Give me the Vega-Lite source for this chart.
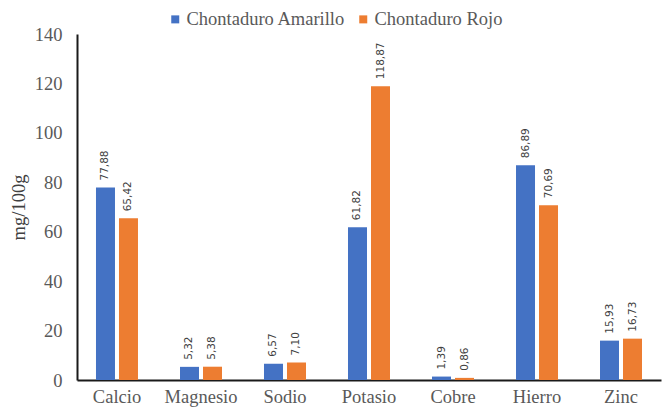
{
  "$schema": "https://vega.github.io/schema/vega-lite/v6.json",
  "width": 584,
  "height": 346,
  "autosize": {"type": "none"},
  "padding": {"left": 77, "top": 34, "right": 2, "bottom": 34},
  "background": "white",
  "config": {
    "view": {"stroke": null},
    "font": "Liberation Serif",
    "locale": {"number": {"decimal": ",", "thousands": ".", "grouping": [3], "currency": ["", ""]}}
  },
  "data": {
    "values": [
      {"mineral": "Calcio", "variedad": "Chontaduro Amarillo", "valor": 77.88},
      {"mineral": "Calcio", "variedad": "Chontaduro Rojo", "valor": 65.42},
      {"mineral": "Magnesio", "variedad": "Chontaduro Amarillo", "valor": 5.32},
      {"mineral": "Magnesio", "variedad": "Chontaduro Rojo", "valor": 5.38},
      {"mineral": "Sodio", "variedad": "Chontaduro Amarillo", "valor": 6.57},
      {"mineral": "Sodio", "variedad": "Chontaduro Rojo", "valor": 7.10},
      {"mineral": "Potasio", "variedad": "Chontaduro Amarillo", "valor": 61.82},
      {"mineral": "Potasio", "variedad": "Chontaduro Rojo", "valor": 118.87},
      {"mineral": "Cobre", "variedad": "Chontaduro Amarillo", "valor": 1.39},
      {"mineral": "Cobre", "variedad": "Chontaduro Rojo", "valor": 0.86},
      {"mineral": "Hierro", "variedad": "Chontaduro Amarillo", "valor": 86.89},
      {"mineral": "Hierro", "variedad": "Chontaduro Rojo", "valor": 70.69},
      {"mineral": "Zinc", "variedad": "Chontaduro Amarillo", "valor": 15.93},
      {"mineral": "Zinc", "variedad": "Chontaduro Rojo", "valor": 16.73}
    ]
  },
  "encoding": {
    "x": {
      "field": "mineral",
      "type": "nominal",
      "sort": null,
      "title": null,
      "scale": {"paddingInner": 0.5, "paddingOuter": 0.226},
      "axis": {
        "labelAngle": 0,
        "labelFont": "Liberation Serif",
        "labelFontSize": 18.5,
        "labelColor": "#595959",
        "labelPadding": 7,
        "ticks": false,
        "domainColor": "#1a1a1a",
        "domainWidth": 2
      }
    },
    "xOffset": {"field": "variedad", "type": "nominal", "scale": {"paddingInner": 0.174}},
    "y": {
      "field": "valor",
      "type": "quantitative",
      "title": "mg/100g",
      "scale": {"domain": [0, 140]},
      "axis": {
        "values": [0, 20, 40, 60, 80, 100, 120, 140],
        "grid": false,
        "ticks": false,
        "labelFont": "Liberation Serif",
        "labelFontSize": 18.5,
        "labelColor": "#595959",
        "labelPadding": 15,
        "domainColor": "#1a1a1a",
        "domainWidth": 2,
        "titleFont": "Liberation Serif",
        "titleFontSize": 18.5,
        "titleFontWeight": "normal",
        "titleColor": "#404040",
        "titlePadding": 6
      }
    },
    "color": {
      "field": "variedad",
      "type": "nominal",
      "scale": {"range": ["#4472C4", "#ED7D31"]},
      "legend": {
        "title": null,
        "orient": "none",
        "legendX": 89,
        "legendY": -24,
        "direction": "horizontal",
        "symbolType": "square",
        "symbolSize": 64,
        "symbolStrokeWidth": 0,
        "symbolOffset": 0,
        "labelOffset": 2,
        "labelFont": "Liberation Serif",
        "labelFontSize": 18.5,
        "labelColor": "#595959",
        "columnPadding": 8
      }
    }
  },
  "layer": [
    {"mark": {"type": "bar"}},
    {
      "mark": {
        "type": "text",
        "angle": 270,
        "align": "left",
        "baseline": "middle",
        "dx": 7,
        "font": "DejaVu Sans",
        "fontSize": 10.5,
        "color": "#404040"
      },
      "encoding": {
        "text": {"field": "valor", "type": "quantitative", "format": ".2f"},
        "color": {"value": "#404040"}
      }
    }
  ]
}
